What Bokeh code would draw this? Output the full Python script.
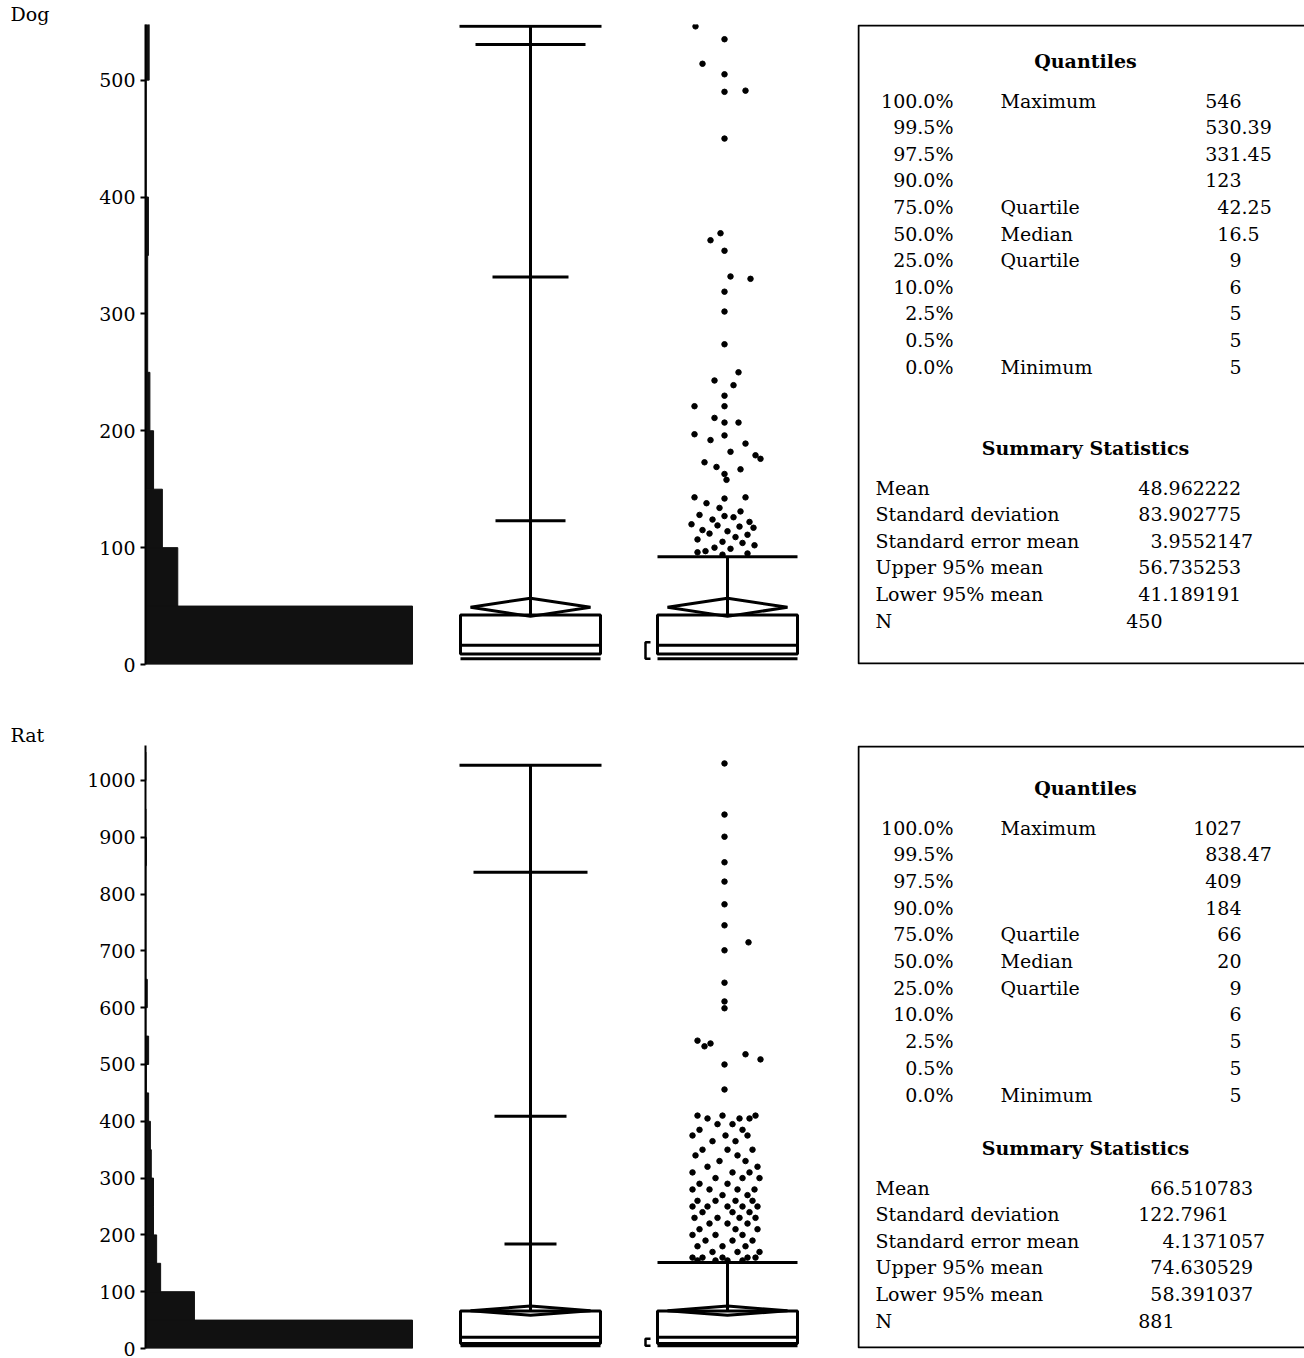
from bokeh.plotting import figure
from bokeh.layouts import column, row
from bokeh.models import Range1d, FixedTicker, Title
from bokeh.core.properties import value
from bokeh.embed import file_html
from bokeh.resources import INLINE

FONT = "DejaVu Serif"

# ---------------- data ----------------
bin_width = 50
dog_counts = [364, 44, 23, 11, 6, 3, 3, 4, 1, 1, 5]
rat_counts = [600, 110, 34, 25, 18, 18, 13, 11, 7, 2, 7, 1, 4, 1, 1, 1, 1, 2, 1, 0, 1]

dog_q = {"max": 546, "q995": 530.39, "q975": 331.45, "q90": 123, "q75": 42.25,
         "med": 16.5, "q25": 9, "min": 5}
rat_q = {"max": 1027, "q995": 838.47, "q975": 409, "q90": 184, "q75": 66,
         "med": 20, "q25": 9, "min": 5}
dog_mean, dog_lo, dog_hi = 48.962222, 41.189191, 56.735253
rat_mean, rat_lo, rat_hi = 66.510783, 58.391037, 74.630529
dog_fence = 92.1
rat_fence = 151.5
dog_short = (5, 19)
rat_short = (5, 17)

dog_out_vals = [546, 535, 514, 505, 491, 490, 450, 369, 363, 354, 332, 330, 319, 302, 274,
                250, 243, 239, 230, 221, 221, 211, 207, 207, 197, 192, 196, 189, 182, 179,
                176, 173, 169, 167, 163, 158, 143, 143, 142, 138, 134, 131, 128, 127, 126,
                124, 122, 120, 119, 118, 117, 115, 114, 112, 111, 109, 107, 105, 104, 102,
                100, 99, 97, 96, 95, 94]
dog_out_jit = [-32, -3, -25, -3, 18, -3, -3, -7, -17, -3, 3, 23, -3, -3, -3,
               11, -13, 6, -3, -33, -3, -13, -3, 11, -33, -17, -3, 18, 3, 28,
               33, -23, -11, 13, -3, -1, -33, 18, -3, -21, -8, 13, -28, -3, 6,
               -15, 22, -36, -10, 12, 26, -25, 0, -18, 20, 8, -30, -5, 15, 27,
               -13, 3, -22, -30, 20, -5]

rat_out_vals = [1030, 940, 901, 856, 822, 782, 745, 715, 701, 644, 611, 599, 542, 537, 532,
                518, 509, 500, 456,
                410, 410, 410, 405, 405, 405, 395, 395, 385, 385, 375, 375, 375, 365, 365,
                350, 350, 350, 340, 340, 330, 330, 320, 320, 310, 310, 310, 300, 300, 300,
                290, 290, 280, 280, 280, 280, 270, 270, 260, 260, 260, 260, 250, 250, 250,
                250, 250, 240, 240, 240, 230, 230, 230, 230, 220, 220, 220, 210, 210, 210,
                200, 200, 200, 190, 190, 190, 180, 180, 180, 170, 170, 170, 160, 160, 160,
                160, 160, 155, 155, 155, 155]
rat_out_jit = [-3, -3, -3, -3, -3, -3, -3, 21, -3, -3, -3, -3, -30, -17, -23,
               18, 33, -3, -3,
               -30, -5, 28, -20, 12, 22, -10, 5, -28, 15, -35, -2, 20, -15, 8,
               -25, 0, 25, -32, 10, -8, 18, -20, 30, -35, 5, 22, -12, 15, 32,
               -28, 0, -35, -18, 10, 27, -5, 20, -30, -12, 8, 25, -35, -20, 0,
               15, 30, -25, 5, 22, -33, -10, 12, 28, -18, 0, 20, -28, 8, 30,
               -35, -12, 15, -22, 5, 25, -30, -5, 18, -15, 10, 32, -35, -25, -5,
               20, 28, -30, -12, 0, 15]

quant_pct = ["100.0%", "99.5%", "97.5%", "90.0%", "75.0%", "50.0%", "25.0%",
             "10.0%", "2.5%", "0.5%", "0.0%"]
quant_name = ["Maximum", "", "", "", "Quartile", "Median", "Quartile", "", "", "", "Minimum"]
dog_quant_vals = ["546", "530.39", "331.45", "123", "42.25", "16.5", "9", "6", "5", "5", "5"]
rat_quant_vals = ["1027", "838.47", "409", "184", "66", "20", "9", "6", "5", "5", "5"]

stat_names = ["Mean", "Standard deviation", "Standard error mean", "Upper 95% mean",
              "Lower 95% mean", "N"]
dog_stat_vals = ["48.962222", "83.902775", "3.9552147", "56.735253", "41.189191", "450"]
rat_stat_vals = ["66.510783", "122.7961", "4.1371057", "74.630529", "58.391037", "881"]


def dist_plot(name, counts, ymax, ticks, q, mean, lo, hi, fence, short,
              out_vals, out_jit, top, frame_h, bottom, half_ticks, hist_max):
    p = figure(frame_width=712, frame_height=frame_h, output_backend="svg",
               toolbar_location=None, x_range=Range1d(0, 712), y_range=Range1d(0, ymax),
               min_border_left=145, min_border_right=0, min_border_top=top,
               min_border_bottom=bottom, x_axis_location=None)
    p.title.visible = False
    p.outline_line_color = None
    p.grid.visible = False
    p.yaxis.ticker = FixedTicker(ticks=ticks)
    p.yaxis.minor_tick_line_color = None
    p.yaxis.major_label_text_font = FONT
    p.yaxis.major_label_text_font_size = "19px"
    p.yaxis.major_label_text_color = "black"
    p.yaxis.axis_line_width = 2
    p.yaxis.major_tick_line_width = 2
    p.yaxis.major_tick_in = 0
    p.yaxis.major_tick_out = 5

    # histogram on its own count scale
    p.extra_x_ranges = {"hist": Range1d(0, hist_max)}
    bottoms = [i * bin_width for i in range(len(counts))]
    tops = [b + bin_width for b in bottoms]
    p.quad(left=0, right=counts, bottom=bottoms, top=tops, x_range_name="hist",
           fill_color="#111111", line_color="#111111")

    # quantile box plot
    cx, hw = 385, 70
    p.quad(left=cx - hw, right=cx + hw, bottom=q["q25"], top=q["q75"],
           fill_color=None, line_color="black", line_width=3)
    p.segment(cx - hw, q["med"], cx + hw, q["med"], line_color="black", line_width=3)
    p.segment(cx - hw, q["min"], cx + hw, q["min"], line_color="black", line_width=3)
    p.segment(cx, q["q75"], cx, q["max"], line_color="black", line_width=3)
    keys = ["q90", "q975", "q995", "max"]
    p.segment([cx - h for h in half_ticks], [q[k] for k in keys],
              [cx + h for h in half_ticks], [q[k] for k in keys],
              line_color="black", line_width=3)
    p.patch([cx - 60, cx, cx + 60, cx, cx - 60], [mean, hi, mean, lo, mean],
            fill_color=None, line_color="black", line_width=3)

    # outlier box plot
    ox = 582
    p.quad(left=ox - hw, right=ox + hw, bottom=q["q25"], top=q["q75"],
           fill_color=None, line_color="black", line_width=3)
    p.segment(ox - hw, q["med"], ox + hw, q["med"], line_color="black", line_width=3)
    p.segment(ox - hw, q["min"], ox + hw, q["min"], line_color="black", line_width=3)
    p.segment(ox, q["q75"], ox, fence, line_color="black", line_width=3)
    p.segment(ox - hw, fence, ox + hw, fence, line_color="black", line_width=3)
    p.patch([ox - 60, ox, ox + 60, ox, ox - 60], [mean, hi, mean, lo, mean],
            fill_color=None, line_color="black", line_width=3)
    # shortest half bracket
    bx = ox - hw - 12
    p.line([bx + 5, bx, bx, bx + 5], [short[1], short[1], short[0], short[0]],
           line_color="black", line_width=2.5)
    p.scatter([ox + j for j in out_jit], out_vals, size=5.5, color="black")

    p.add_layout(Title(text=name, align="left", offset=-135, text_font=FONT,
                       text_font_size="19px", text_font_style="normal",
                       text_color="black", standoff=0), "above")
    return p


def stats_panel(y_top, y_bot, top, bottom, box_top, box_bot, title_y, qrows,
                sum_title_y, srows, qvals, q_dp, svals, s_dp):
    # y coordinates are page pixels; the frame lines up with the plot frame
    p = figure(frame_width=447, frame_height=y_bot - y_top, output_backend="svg",
               toolbar_location=None, x_range=Range1d(0, 447),
               y_range=Range1d(y_bot, y_top), min_border_left=0, min_border_right=0,
               min_border_top=top, min_border_bottom=bottom,
               x_axis_location=None, y_axis_location=None)
    p.title.visible = False
    p.outline_line_color = None
    p.grid.visible = False
    p.line([447, 1, 1, 447], [box_top, box_top, box_bot, box_bot],
           line_color="black", line_width=2)
    common = dict(text_font=value(FONT), text_font_size="19px", text_baseline="middle",
                  text_color="black")
    bold = dict(common, text_font_style="bold")
    p.text([228], [title_y], text=["Quantiles"], text_align="center", **bold)
    p.text([228], [sum_title_y], text=["Summary Statistics"], text_align="center", **bold)
    p.text([96] * len(qrows), qrows, text=quant_pct, text_align="right", **common)
    p.text([143] * len(qrows), qrows, text=quant_name, text_align="left", **common)
    ints = [v.split(".")[0] for v in qvals]
    fracs = ["." + v.split(".")[1] if "." in v else "" for v in qvals]
    p.text([q_dp] * len(qrows), qrows, text=ints, text_align="right", **common)
    p.text([q_dp] * len(qrows), qrows, text=fracs, text_align="left", **common)
    p.text([18] * len(srows), srows, text=stat_names, text_align="left", **common)
    ints = [v.split(".")[0] for v in svals]
    fracs = ["." + v.split(".")[1] if "." in v else "" for v in svals]
    p.text([s_dp] * len(srows), srows, text=ints, text_align="right", **common)
    p.text([s_dp] * len(srows), srows, text=fracs, text_align="left", **common)
    return p


dog_plot = dist_plot("Dog", dog_counts, 547.6, [0, 100, 200, 300, 400, 500], dog_q,
                     dog_mean, dog_lo, dog_hi, dog_fence, dog_short,
                     dog_out_vals, dog_out_jit, 22, 640, 46, [35, 38, 55, 71], 970.7)
rat_plot = dist_plot("Rat", rat_counts, 1061.6, list(range(0, 1001, 100)), rat_q,
                     rat_mean, rat_lo, rat_hi, rat_fence, rat_short,
                     rat_out_vals, rat_out_jit, 35, 603, 12, [26, 36, 57, 71], 1600)

dog_qrows = [98 + 26.6 * i for i in range(11)]
dog_srows = [485 + 26.6 * i for i in range(6)]
dog_panel = stats_panel(22, 662, 22, 46, 23, 661, 58, dog_qrows, 445, dog_srows,
                        dog_quant_vals, 384, dog_stat_vals, 305)
rat_qrows = [825 + 26.7 * i for i in range(11)]
rat_srows = [1185 + 26.6 * i for i in range(6)]
rat_panel = stats_panel(743, 1346, 35, 12, 744, 1345, 785, rat_qrows, 1145, rat_srows,
                        rat_quant_vals, 384, rat_stat_vals, 317)

layout = column(row(dog_plot, dog_panel), row(rat_plot, rat_panel), spacing=0)
open("out.html", "w").write(file_html(layout, INLINE))
